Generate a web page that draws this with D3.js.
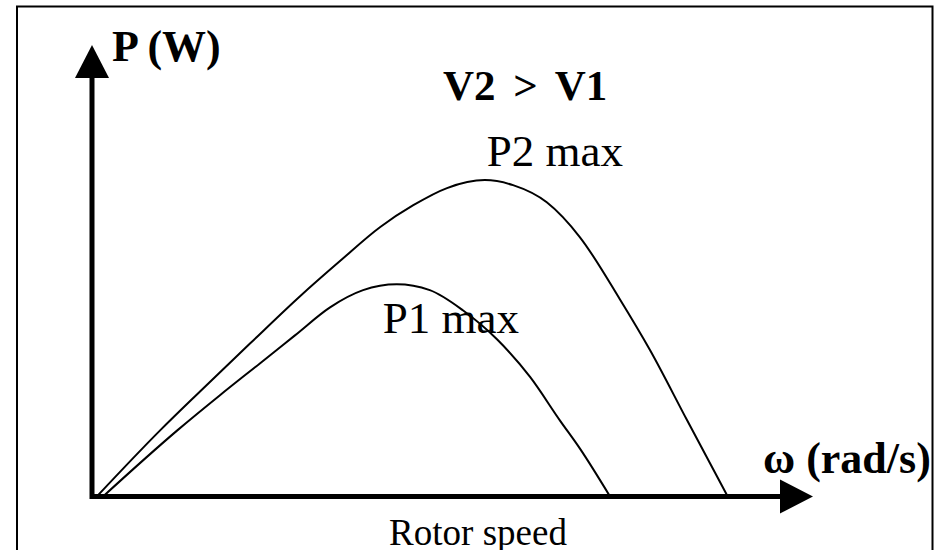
<!DOCTYPE html>
<html>
<head>
<meta charset="utf-8">
<script src="https://cdn.jsdelivr.net/npm/d3@7"></script>
<style>
  html, body { margin: 0; padding: 0; background: #fff; }
  svg { display: block; }
</style>
</head>
<body>
<svg id="chart" width="936" height="550"></svg>
<script>
// Rotor speed (rad/s, relative units) and power (W, relative units) for two wind speeds
const omegaV1 = [1.6, 12.4, 18.6, 24.4, 29.5, 34.6, 39.4, 44.3, 49.1, 53.9, 58.9, 63.7, 68.0, 70.9, 75.3];
const powerV1 = [0, 15.8, 24.2, 31.8, 38.5, 45.2, 49.3, 50.7, 49.3, 44.5, 37.5, 28.5, 18.2, 11.5, 0];

const omegaV2 = [0.7, 9.9, 15.7, 23.0, 30.2, 36.0, 41.9, 46.7, 51.6, 57.1, 61.2, 66.1, 70.9, 76.7, 81.1, 86.5, 92.4];
const powerV2 = [0, 15.8, 25.1, 36.6, 47.8, 56.2, 64.4, 69.6, 73.7, 75.6, 74.4, 70.3, 62.0, 47.2, 35.0, 18.2, 0];

const yAxisLabel = "P (W)";
const xAxisLabel = "ω (rad/s)";
const xCaption = "Rotor speed";
const titleText = "V2 > V1";
const peakLabels = ["P1 max", "P2 max"];

const svg = d3.select("#chart");

// frame around the figure (open at the bottom)
svg.append("rect")
  .attr("x", 17).attr("y", 6.5)
  .attr("width", 915.5).attr("height", 600)
  .attr("fill", "none").attr("stroke", "#000").attr("stroke-width", 2);

const x = d3.scaleLinear().domain([0, 100]).range([92, 780]);
const y = d3.scaleLinear().domain([0, 100]).range([496.5, 78]);

const line = d3.line()
  .x(d => x(d[0]))
  .y(d => y(d[1]))
  .curve(d3.curveMonotoneX);

const curves = [
  d3.zip(omegaV1, powerV1),
  d3.zip(omegaV2, powerV2)
];

svg.append("g").selectAll("path")
  .data(curves)
  .join("path")
  .attr("d", line)
  .attr("fill", "none")
  .attr("stroke", "#000")
  .attr("stroke-width", 2);

// axes with arrowheads
const ax = svg.append("g");
ax.append("line")
  .attr("x1", x(0)).attr("y1", y(0))
  .attr("x2", x(100)).attr("y2", y(0))
  .attr("stroke", "#000").attr("stroke-width", 5);
ax.append("line")
  .attr("x1", x(0)).attr("y1", y(0) + 2.5)
  .attr("x2", x(0)).attr("y2", y(100))
  .attr("stroke", "#000").attr("stroke-width", 5);
ax.append("path")
  .attr("d", `M${x(100)},${y(0) - 17} L${x(100) + 33},${y(0)} L${x(100)},${y(0) + 17} Z`)
  .attr("fill", "#000");
ax.append("path")
  .attr("d", `M${x(0) - 17},${y(100)} L${x(0)},${y(100) - 33} L${x(0) + 17},${y(100)} Z`)
  .attr("fill", "#000");

const serif = "'Liberation Serif', 'Times New Roman', serif";

svg.append("text")
  .attr("x", 112).attr("y", 61)
  .attr("font-family", serif).attr("font-weight", "bold").attr("font-size", 44)
  .text(yAxisLabel);

svg.append("text")
  .attr("x", 443).attr("y", 100)
  .attr("font-family", serif).attr("font-weight", "bold").attr("font-size", 43)
  .attr("word-spacing", 7)
  .text(titleText);

svg.append("text")
  .attr("x", 763).attr("y", 473)
  .attr("font-family", serif).attr("font-weight", "bold").attr("font-size", 44)
  .text(xAxisLabel);

svg.append("text")
  .attr("x", 478).attr("y", 545)
  .attr("text-anchor", "middle")
  .attr("font-family", serif).attr("font-size", 37)
  .text(xCaption);

// peak annotations placed relative to each curve's maximum
const peakOffsets = [[-14, 49], [2, -14]];
curves.forEach((c, i) => {
  const peak = c.reduce((a, b) => (b[1] > a[1] ? b : a));
  svg.append("text")
    .attr("x", x(peak[0]) + peakOffsets[i][0])
    .attr("y", y(peak[1]) + peakOffsets[i][1])
    .attr("font-family", serif).attr("font-size", 45)
    .text(peakLabels[i]);
});
</script>
</body>
</html>
